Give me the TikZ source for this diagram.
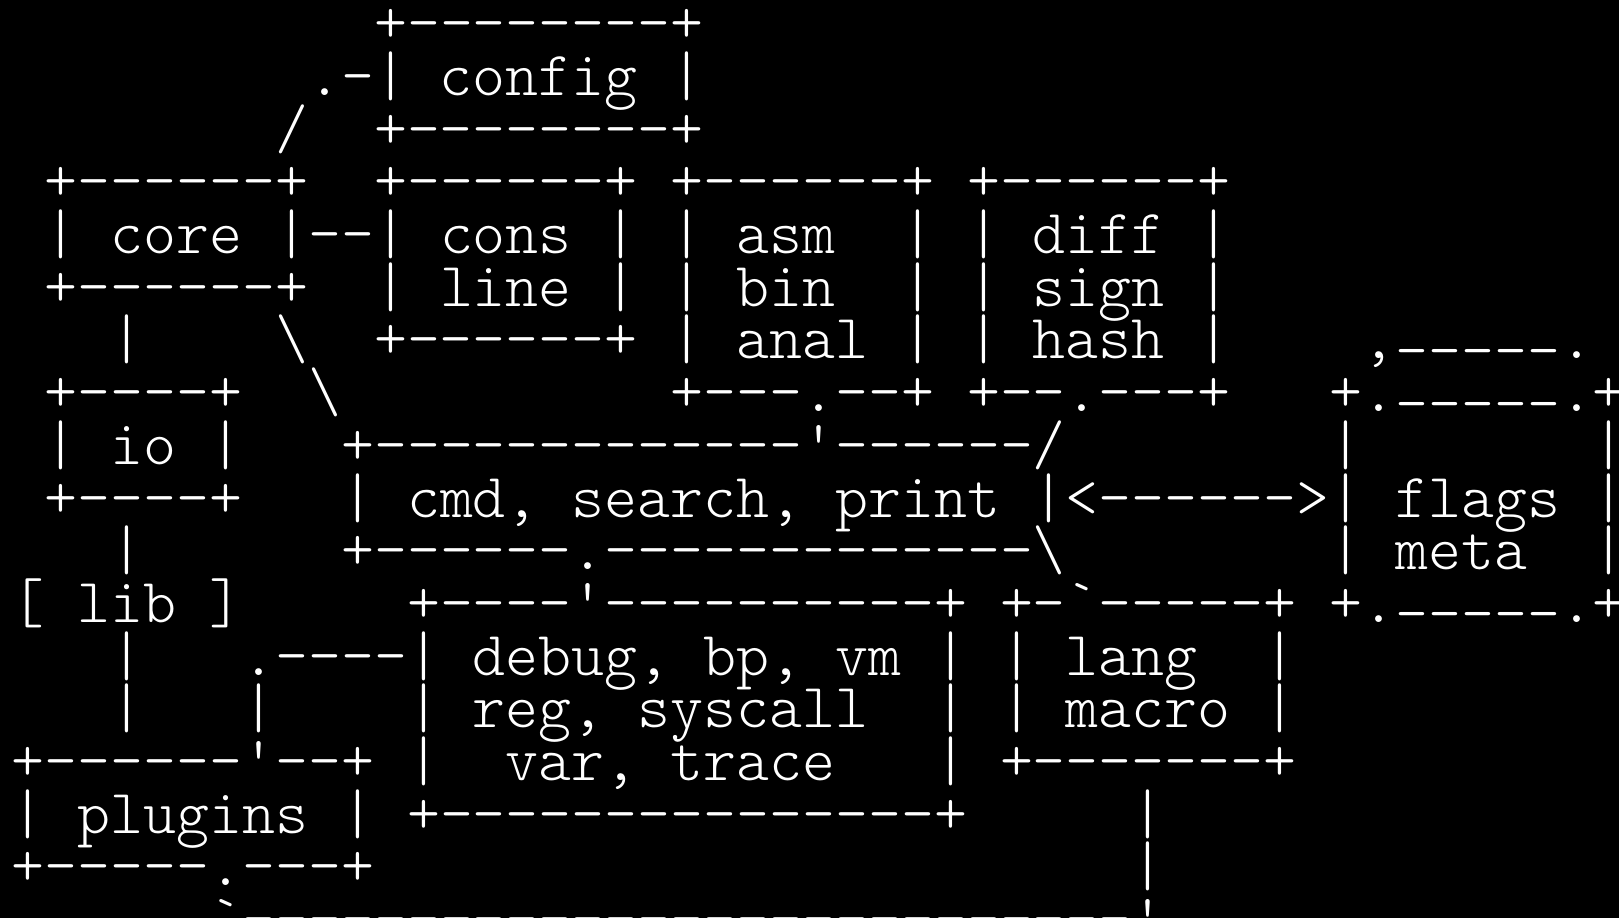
\documentclass[tikz,border=0pt]{standalone}
\usepackage{fontspec}
\setmonofont{lmmonolt10-regular.otf}
\newcommand{\uline}{\raisebox{17.5bp}{\_\_\_\_\_}}
\begin{document}
\begin{tikzpicture}[x=1bp,y=-1bp,
  asciirow/.style={anchor=base west,inner sep=0pt,outer sep=0pt,text=white,
    font=\fontsize{62.98pt}{70pt}\selectfont\ttfamily}]
\fill[black] (0,0) rectangle (1619,918);
\useasboundingbox (0,0) rectangle (1619,918);
\node[asciirow] (r0)  at (11.8,42.7)  {~~~~~~~~~~~+--------+};
\node[asciirow] (r1)  at (11.8,95.4)  {~~~~~~~~~.-|~config~|};
\node[asciirow] (r2)  at (11.8,148.1) {~~~~~~~~/~~+--------+};
\node[asciirow] (r3)  at (11.8,200.8) {~+------+~~+------+~+------+~+------+};
\node[asciirow] (r4)  at (11.8,253.5) {~|~core~|--|~cons~|~|~asm~~|~|~diff~|};
\node[asciirow] (r5)  at (11.8,306.2) {~+------+~~|~line~|~|~bin~~|~|~sign~|};
\node[asciirow] (r6)  at (11.8,358.9) {~~~|~~~~\textbackslash{}~~+------+~|~anal~|~|~hash~|~~~~,\uline.};
\node[asciirow] (r7)  at (11.8,411.6) {~+----+~~\textbackslash{}~~~~~~~~~~+---.--+~+--.---+~~~+.\uline.+};
\node[asciirow] (r8)  at (11.8,464.3) {~|~io~|~~~+-------------'------/~~~~~~~~|~~~~~~~|};
\node[asciirow] (r9)  at (11.8,517.0) {~+----+~~~|~cmd,~search,~print~|<------>|~flags~|};
\node[asciirow] (r10) at (11.8,569.7) {~~~|~~~~~~+------.-------------\textbackslash{}~~~~~~~~|~meta~~|};
\node[asciirow] (r11) at (11.8,622.4) {[~lib~]~~~~~+----'----------+~+-`-----+~+.\uline.+};
\node[asciirow] (r12) at (11.8,675.1) {~~~|~~~.----|~debug,~bp,~vm~|~|~lang~~|};
\node[asciirow] (r13) at (11.8,727.8) {~~~|~~~|~~~~|~reg,~syscall~~|~|~macro~|};
\node[asciirow] (r14) at (11.8,780.5) {+------'--+~|~~var,~trace~~~|~+-------+};
\node[asciirow] (r15) at (11.8,833.2) {|~plugins~|~+---------------+~~~~~|};
\node[asciirow] (r16) at (11.8,885.9) {+-----.---+~~~~~~~~~~~~~~~~~~~~~~~|};
\node[asciirow] (r17) at (11.8,938.6) {~~~~~~`---------------------------'};
\end{tikzpicture}
\end{document}
